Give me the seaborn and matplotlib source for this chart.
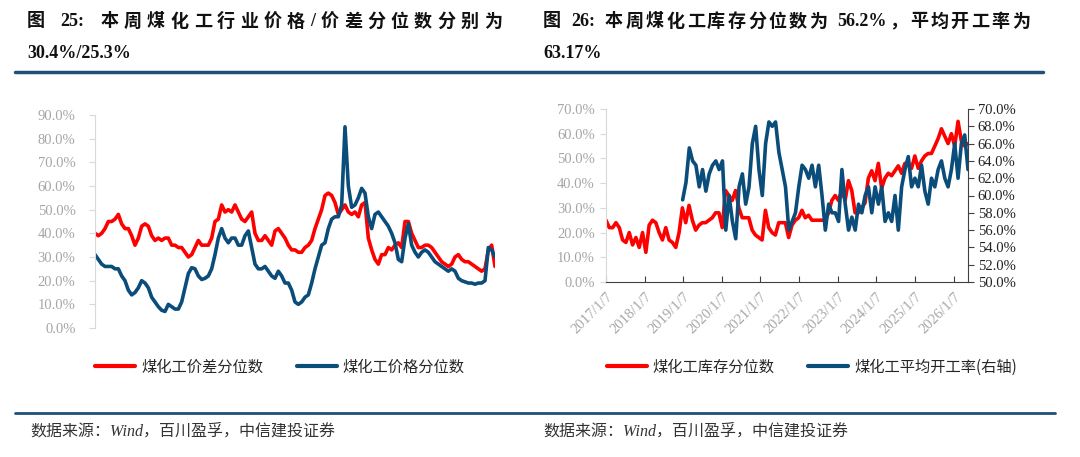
import re
import matplotlib
matplotlib.use("Agg")
import matplotlib.pyplot as plt
import matplotlib.ticker as mticker
from matplotlib.lines import Line2D
import seaborn as sns
import numpy as np
import pandas as pd

# 图25：价差/价格分位数(%)，月度读数
spread_pct = [40, 39, 40, 42, 45, 45, 46, 48, 44, 42, 42, 39, 35, 38, 43, 44, 43, 39, 37, 38,
              37, 38, 38, 35, 35, 34, 34, 32, 30, 31, 34, 37, 35, 35, 35, 38, 45, 46, 52, 49,
              50, 49, 52, 49, 46, 45, 47, 49, 40, 37, 37, 39, 37, 35, 41, 42, 40, 38, 35, 33,
              33, 32, 32, 34, 35, 37, 42, 46, 50, 56, 57, 56, 53, 48, 50, 52, 49, 48, 49, 47,
              52, 53, 38, 33, 29, 27, 31, 31, 34, 33, 35, 36, 34, 45, 45, 40, 37, 34, 34, 35,
              35, 34, 32, 30, 28, 27, 26, 27, 30, 31, 29, 28, 28, 27, 26, 25, 24, 25, 33, 35,
              26]
price_pct = [31, 29, 27, 26, 26, 26, 25, 25, 22, 20, 16, 14, 15, 17, 20, 19, 17, 13, 11, 9,
             7.5, 7, 10, 9, 8, 8, 11, 17, 23, 25.5, 25, 22, 20.5, 21, 22, 25, 31, 38, 42, 38,
             36, 38, 38, 35, 35, 39, 41, 34, 27, 25, 25, 26, 24, 22, 21, 24, 22, 19, 19, 16,
             11, 10, 11, 13, 14, 19, 25, 30, 35, 36, 42, 46, 47, 47, 52, 85, 60, 51, 52, 55,
             59, 57, 47, 42, 48, 49, 47, 45, 43, 40, 36, 29, 28, 38, 44, 35, 32, 30, 32, 33,
             32, 30, 28, 27, 26, 25, 24, 25, 24, 21, 20, 19.5, 19, 19, 18.5, 19, 19, 20, 34, 33,
             30]

# 图26：库存分位数(%，左轴)与平均开工率(%，右轴)
stock_pct = [25, 22, 22, 24, 22, 17, 16, 20, 15, 18, 14, 20, 12, 23, 25, 24, 20, 17, 22, 17,
             16, 14, 20, 30, 24, 31, 25, 21, 23, 24, 24, 25, 26, 28, 28, 22, 37, 35, 33, 37,
             30, 26, 26, 26, 21, 19, 18, 17, 29, 22, 20, 19, 24, 24, 24, 18, 23, 25, 26, 29,
             26, 27, 25, 25, 25, 25, 25, 28, 33, 35, 33, 37, 33, 41, 37, 28, 28, 30, 32, 42,
             45, 41, 48, 38, 42, 44, 43, 45, 47, 44, 48, 48, 46, 51, 46, 49, 51, 52, 52, 55,
             58, 62, 59, 56, 60, 55, 65, 57, 55, 56]
op_rate = [59.5, 61.5, 65.5, 64, 63.5, 61, 63, 60.5, 62.5, 63.5, 64, 63, 64, 56, 60, 57, 55, 61,
           62.5, 59, 61, 66, 68, 63, 60, 66, 68.5, 68, 68.5, 65, 63, 61, 56, 57, 58, 61, 63.5,
           63, 62, 63.5, 61, 63.5, 60, 56, 59, 58, 58, 57, 63, 59, 56, 57.5, 56, 59, 58, 60,
           61, 58, 61, 59, 61, 57, 58, 57, 60, 56, 61, 63, 64.5, 61, 62, 61, 63.5, 60.5, 59,
           62, 61, 63, 64, 62, 61, 63, 66, 62, 66, 67, 63]

start = pd.Timestamp("2017-01-07")
end = pd.Timestamp("2026-05-24")
op_start = pd.Timestamp("2019-01-02")
year_ticks = [pd.Timestamp(f"{y}-01-07") for y in range(2017, 2027)]

RED = "#FF0000"
BLUE = "#0B4D7A"
NAVY = "#1F4E79"
GRAY = "#A6A6A6"
LW = 2.6

sns.set_style("white")
plt.rcParams["font.family"] = ["Liberation Serif", "Noto Sans CJK SC", "DejaVu Sans"]
plt.rcParams["axes.unicode_minus"] = False

W, H = 1080, 457
fig = plt.figure(figsize=(W / 100, H / 100), dpi=100)


def px_axes(x0, y_top, x1, y_bot):
    return fig.add_axes([x0 / W, 1 - y_bot / H, (x1 - x0) / W, (y_bot - y_top) / H])


def justify(s, x0, x1, y, **kw):
    '''一行标题两端对齐'''
    tokens = re.findall(r"[0-9A-Za-z.:%/]+| |[^\s]", s)
    rend = fig.canvas.get_renderer()
    texts = [fig.text(0, 1 - y / H, t, va="center", ha="left", **kw) for t in tokens]
    widths = [t.get_window_extent(rend).width if t.get_text().strip() else 5
              for t in texts]
    gap = (x1 - x0 - sum(widths)) / (len(tokens) - 1)
    x = x0
    for t, w in zip(texts, widths):
        t.set_x(x / W)
        x += w + gap


pct_fmt = mticker.FuncFormatter(lambda v, p: f"{v:.1f}%")

# ---------- 图25 ----------
ax1 = px_axes(95, 115, 495, 328)
d_spread = pd.date_range(start, end, periods=len(spread_pct))
d_price = pd.date_range(start, end, periods=len(price_pct))
sns.lineplot(x=d_spread, y=spread_pct, ax=ax1, color=RED, lw=LW)
sns.lineplot(x=d_price, y=price_pct, ax=ax1, color=BLUE, lw=LW)
ax1.set_xlim(start, end)
ax1.set_ylim(0, 90)
ax1.yaxis.set_major_locator(mticker.MultipleLocator(10))
ax1.yaxis.set_major_formatter(pct_fmt)
ax1.set_xticks([])
ax1.set_xlabel("")
ax1.set_ylabel("")
for s in ["top", "right", "bottom"]:
    ax1.spines[s].set_visible(False)
ax1.spines["left"].set_color("#D9D9D9")
ax1.tick_params(axis="y", left=True, length=4, color="#D9D9D9", labelcolor=GRAY,
                labelsize=10.5, pad=10)

# ---------- 图26 ----------
ax2 = px_axes(606, 109, 968, 282)
d_stock = pd.date_range(start, end, periods=len(stock_pct))
d_op = pd.date_range(op_start, end, periods=len(op_rate))
sns.lineplot(x=d_stock, y=stock_pct, ax=ax2, color=RED, lw=LW)
ax2.set_xlim(start, end)
ax2.set_ylim(0, 70)
ax2.yaxis.set_major_locator(mticker.MultipleLocator(10))
ax2.yaxis.set_major_formatter(pct_fmt)
ax2.set_xticks(year_ticks)
ax2.set_xticklabels([f"{t.year}/1/7" for t in year_ticks], rotation=45, ha="right",
                    rotation_mode="anchor")
ax2.set_xlabel("")
ax2.set_ylabel("")
for s in ["top", "right"]:
    ax2.spines[s].set_visible(False)
ax2.spines["left"].set_color("#D9D9D9")
ax2.spines["bottom"].set_color("#404040")
ax2.tick_params(axis="y", left=True, length=4, color="#D9D9D9", labelcolor=GRAY,
                labelsize=10.5, pad=4)
ax2.tick_params(axis="x", bottom=True, direction="in", length=4, color="#404040",
                labelcolor=GRAY, labelsize=10.5, pad=6)

ax3 = ax2.twinx()
sns.lineplot(x=d_op, y=op_rate, ax=ax3, color=BLUE, lw=LW)
ax3.set_xlim(start, end)
ax3.set_ylim(50, 70)
ax3.yaxis.set_major_locator(mticker.MultipleLocator(2))
ax3.yaxis.set_major_formatter(pct_fmt)
ax3.set_xlabel("")
ax3.set_ylabel("")
for s in ["top", "left", "bottom"]:
    ax3.spines[s].set_visible(False)
ax3.spines["right"].set_color("#404040")
ax3.tick_params(axis="y", right=True, length=4, color="#404040", labelcolor="#222222",
                labelsize=10.5, pad=3)

# ---------- 图例 ----------
leg_kw = dict(loc="center", ncol=2, frameon=False, handlelength=2.6, handletextpad=0.4,
              columnspacing=2.2, prop={"family": ["Noto Sans CJK SC"], "size": 11})
fig.legend([Line2D([], [], color=RED, lw=3), Line2D([], [], color=BLUE, lw=3)],
           ["煤化工价差分位数", "煤化工价格分位数"],
           bbox_to_anchor=(280 / W, 1 - 367 / H), **leg_kw)
fig.legend([Line2D([], [], color=RED, lw=3), Line2D([], [], color=BLUE, lw=3)],
           ["煤化工库存分位数", "煤化工平均开工率(右轴)"],
           bbox_to_anchor=(812 / W, 1 - 367 / H), **leg_kw)

# ---------- 标题 ----------
title_kw = dict(family=["Liberation Serif", "Noto Sans CJK SC"], weight="bold", size=13,
                color="#111111")
justify("图 25: 本周煤化工行业价格/价差分位数分别为", 27, 502, 22, **title_kw)
fig.text(27 / W, 1 - 54 / H, "30.4%/25.3%", va="center", ha="left", **title_kw)
justify("图 26: 本周煤化工库存分位数为 56.2%，平均开工率为", 543, 1030, 22, **title_kw)
fig.text(543 / W, 1 - 54 / H, "63.17%", va="center", ha="left", **title_kw)

# 分隔线
fig.add_artist(Line2D([15 / W, 1043 / W], [1 - 72 / H, 1 - 72 / H], color=NAVY, lw=2.5))
fig.add_artist(Line2D([15 / W, 1055 / W], [1 - 413 / H, 1 - 413 / H], color=NAVY, lw=2))

# 数据来源
src_kw = dict(family=["Liberation Serif", "Noto Sans CJK SC"], style="italic", size=11.5,
              color="#333333", va="center", ha="left")
fig.text(30 / W, 1 - 432 / H, "数据来源：Wind，百川盈孚，中信建投证券", **src_kw)
fig.text(543 / W, 1 - 432 / H, "数据来源：Wind，百川盈孚，中信建投证券", **src_kw)

fig.savefig("out.png", dpi=100)
